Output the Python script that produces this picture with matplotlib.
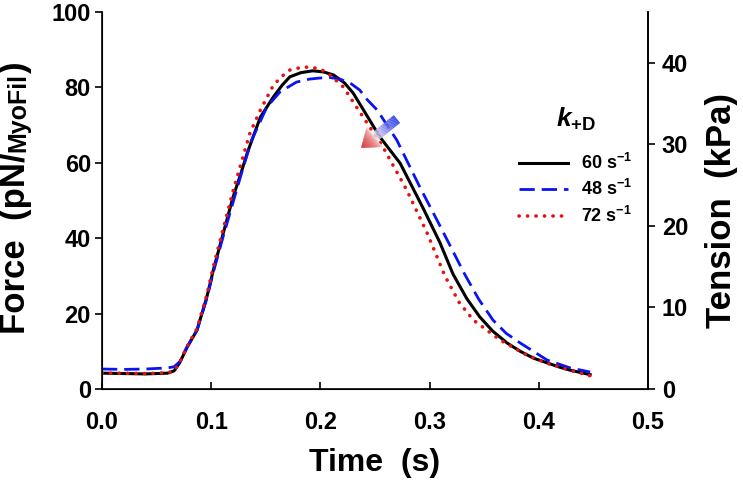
import numpy as np
import matplotlib
matplotlib.use("Agg")
import matplotlib.pyplot as plt
from matplotlib.collections import LineCollection
from matplotlib.patches import Polygon

# ---------- data ----------
t_60 = [0, 0.02, 0.04, 0.06, 0.066, 0.071, 0.078, 0.087, 0.096, 0.102, 0.111,
        0.120, 0.127, 0.133, 0.145, 0.157, 0.165, 0.172, 0.182, 0.193, 0.203,
        0.212, 0.222, 0.230, 0.242, 0.2546, 0.273, 0.294, 0.3095, 0.3214,
        0.334, 0.346, 0.358, 0.371, 0.383, 0.395, 0.419, 0.4286, 0.447]
f_60 = [4.2, 4.1, 4.0, 4.2, 4.8, 6.9, 11.1, 15.6, 24.4, 31.6, 41.3,
        50.9, 57.0, 62.6, 72.1, 77.5, 80.6, 82.8, 83.9, 84.4, 84.1,
        83.3, 81.2, 78.5, 72.8, 66.8, 59.9, 48.0, 38.8, 30.5,
        24.0, 19.1, 15.3, 12.2, 10.0, 8.2, 5.8, 5.0, 3.8]

t_48 = [0, 0.02, 0.04, 0.06, 0.066, 0.071, 0.078, 0.087, 0.096, 0.102, 0.111,
        0.120, 0.128, 0.137, 0.151, 0.163, 0.178, 0.190, 0.200, 0.209, 0.218,
        0.228, 0.236, 0.243, 0.252, 0.270, 0.291, 0.310, 0.332, 0.345, 0.358,
        0.370, 0.383, 0.4075, 0.4286, 0.447]
f_48 = [5.3, 5.2, 5.3, 5.6, 5.9, 7.2, 11.3, 15.6, 24.0, 31.0, 40.5,
        49.5, 57.5, 66.0, 74.8, 78.8, 81.4, 82.2, 82.5, 82.6, 82.2,
        81.0, 79.3, 76.7, 74.0, 66.0, 53.6, 43.0, 30.5, 23.8, 18.3,
        14.8, 12.2, 7.7, 5.6, 4.5]

t_72 = [0, 0.02, 0.04, 0.06, 0.066, 0.071, 0.078, 0.087, 0.096, 0.102, 0.111,
        0.120, 0.128, 0.1355, 0.145, 0.157, 0.165, 0.172, 0.184, 0.192, 0.200,
        0.210, 0.221, 0.236, 0.2573, 0.279, 0.298, 0.314, 0.327, 0.340,
        0.3645, 0.389, 0.410, 0.4286, 0.447]
f_72 = [4.2, 4.2, 4.1, 4.3, 4.8, 6.9, 11.3, 16.0, 25.0, 32.5, 42.5,
        52.5, 60.5, 67.9, 74.0, 80.6, 83.0, 84.6, 85.4, 85.3, 84.9,
        83.0, 80.1, 73.5, 64.2, 52.8, 41.2, 30.0, 23.0, 18.3,
        13.0, 9.0, 6.6, 5.0, 3.5]

labels = ["60 s$^{-1}$", "48 s$^{-1}$", "72 s$^{-1}$"]
x_ticks = [0.0, 0.1, 0.2, 0.3, 0.4, 0.5]
y_ticks = [0, 20, 40, 60, 80, 100]
y2_ticks = [0, 10, 20, 30, 40]

# ---------- style ----------
plt.rcParams["font.family"] = ["Liberation Sans", "DejaVu Sans"]
plt.rcParams["font.weight"] = "bold"
plt.rcParams["mathtext.fontset"] = "custom"
plt.rcParams["mathtext.rm"] = "Liberation Sans:bold"
plt.rcParams["mathtext.bf"] = "Liberation Sans:bold"
plt.rcParams["mathtext.it"] = "Liberation Sans:bold:italic"

fig = plt.figure(figsize=(7.43, 4.87), dpi=100)
ax = fig.add_axes([102 / 743, 1 - 389 / 487, 546 / 743, 377 / 487])

ax.plot(t_60, f_60, color="black", lw=2.2, label=labels[0])
ax.plot(t_48, f_48, color="#0a14f0", lw=2.0, dashes=(5.5, 2.5), label=labels[1])
ax.plot(t_72, f_72, color="#e81010", lw=2.6, linestyle=(0, (0.05, 2.3)),
        dash_capstyle="round", label=labels[2])

ax.set_xlim(0, 0.5)
ax.set_ylim(0, 100)
ax.set_xticks(x_ticks)
ax.set_xticklabels([f"{v:.1f}" for v in x_ticks])
ax.set_yticks(y_ticks)
ax.spines["top"].set_visible(False)
for s in ["left", "bottom", "right"]:
    ax.spines[s].set_linewidth(1.2)
ax.tick_params(axis="x", direction="in", length=5, width=1.2, pad=16, labelsize=17)
ax.tick_params(axis="y", direction="out", length=5, width=1.2, pad=3, labelsize=17)

ax2 = ax.twinx()
ax2.set_ylim(0, 46.2)
ax2.set_yticks(y2_ticks)
ax2.spines["top"].set_visible(False)
ax2.spines["right"].set_linewidth(1.2)
ax2.tick_params(axis="y", direction="out", length=5, width=1.2, pad=5, labelsize=17)
fig.text(722 / 743, 1 - 210 / 487, "Tension  (kPa)", rotation=90,
         ha="center", va="center", fontsize=25, fontweight="bold")

ax.set_xlabel("Time  (s)", fontsize=23, fontweight="bold", labelpad=10)

# y label with a smaller "MyoFil"
fig.canvas.draw()
r = fig.canvas.get_renderer()
xb = 25 / 743
y0 = (487 - 334) / 487
pieces = [("Force  (pN/", 25), ("MyoFil", 18), (")", 25)]
for txt, fs in pieces:
    tx = fig.text(xb, y0, txt, rotation=90, rotation_mode="anchor",
                  ha="left", va="baseline", fontsize=fs, fontweight="bold")
    ext = tx.get_window_extent(r)
    y0 += ext.height / fig.bbox.height

# legend
leg = ax.legend(loc="upper left", bbox_to_anchor=(503 / 743, 1 - 90 / 487),
                bbox_transform=fig.transFigure, frameon=False, fontsize=13,
                title="$k_{\\mathrm{+D}}$", title_fontsize=19,
                handlelength=2.7, handletextpad=0.7, labelspacing=0.35)
leg.get_title().set_fontweight("bold")
leg._legend_box.sep = 14

# gradient arrow (blue -> red)
p0 = ax.transData.transform((0.2701, 71.6))
p1 = ax.transData.transform((0.2375, 64.0))
u = (p1 - p0) / np.linalg.norm(p1 - p0)
nrm = np.array([-u[1], u[0]])
hl, hw, sw = 17, 12.5, 5
base = p1 - u * hl
inv = ax.transData.inverted()
n = 30
c_blue = np.array([0.15, 0.22, 0.92])
c_white = np.array([0.94, 0.9, 0.94])
segs, cols = [], []
for i in range(n):
    a = p0 + (base - p0) * i / n
    b = p0 + (base - p0) * (i + 1) / n
    segs.append(inv.transform([a, b]))
    cols.append(c_blue + (c_white - c_blue) * (i / (n - 1)) ** 1.2)
ax.add_collection(LineCollection(segs, colors=cols, linewidths=sw * 2 * 0.72,
                                 capstyle="butt", zorder=5))
c_pink = np.array([0.97, 0.8, 0.8])
c_red = np.array([0.84, 0.22, 0.22])
k = 12
for i in range(k):
    f0 = i / k
    f1 = (i + 1) / k
    c0 = base + u * hl * f0
    c1 = base + u * hl * f1
    w0 = hw * (1 - f0)
    w1 = hw * (1 - f1)
    pts = [c0 + nrm * w0, c1 + nrm * w1, c1 - nrm * w1, c0 - nrm * w0]
    col = c_pink + (c_red - c_pink) * (i / (k - 1)) ** 0.6
    ax.add_patch(Polygon(inv.transform(pts), closed=True, facecolor=col,
                         edgecolor=col, lw=0.3, zorder=6))

fig.savefig("out.png", dpi=100)
